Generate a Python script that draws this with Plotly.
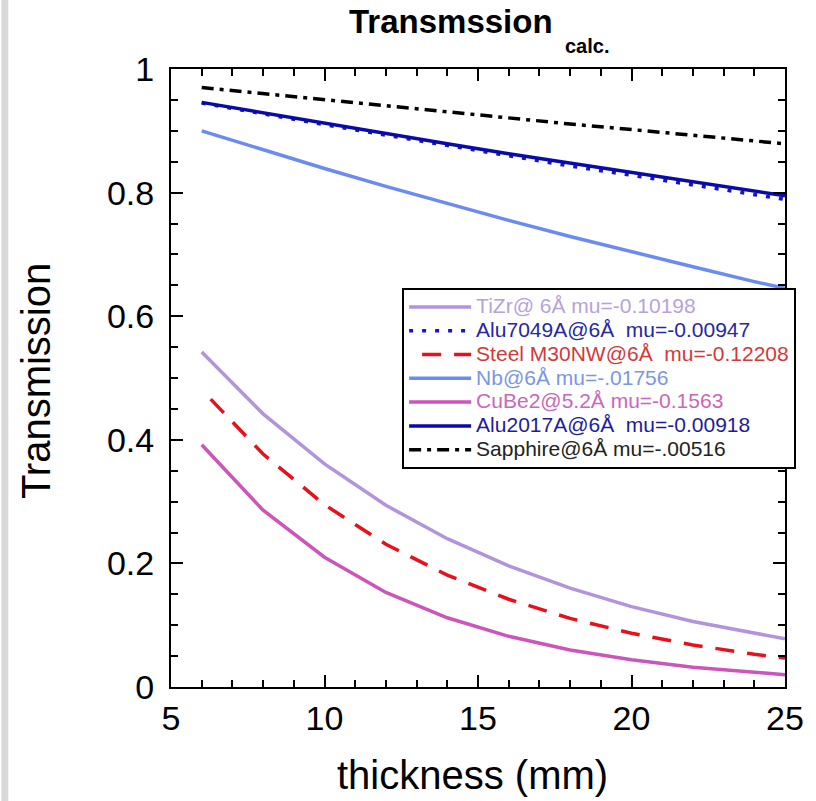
import plotly.graph_objects as go

# thickness (mm) and calculated transmission for each material
thickness = [6, 8, 10, 12, 14, 16, 18, 20, 22, 24, 25]
tizr = [0.542, 0.442, 0.361, 0.294, 0.240, 0.196, 0.160, 0.130, 0.106, 0.087, 0.078]
alu7049a = [0.945, 0.927, 0.910, 0.893, 0.876, 0.859, 0.843, 0.828, 0.812, 0.797, 0.789]
steel = [0.481, 0.377, 0.295, 0.231, 0.181, 0.142, 0.111, 0.087, 0.068, 0.053, 0.047]
nb = [0.900, 0.869, 0.839, 0.810, 0.782, 0.755, 0.729, 0.704, 0.680, 0.656, 0.645]
cube2 = [0.392, 0.286, 0.210, 0.153, 0.112, 0.082, 0.060, 0.044, 0.032, 0.024, 0.020]
alu2017a = [0.946, 0.929, 0.912, 0.896, 0.879, 0.863, 0.848, 0.832, 0.817, 0.802, 0.795]
sapphire = [0.970, 0.960, 0.950, 0.940, 0.930, 0.921, 0.911, 0.902, 0.893, 0.884, 0.879]

series_names = [
    "TiZr@ 6Å mu=-0.10198",
    "Alu7049A@6Å\u00a0\u00a0mu=-0.00947",
    "Steel M30NW@6Å\u00a0\u00a0mu=-0.12208",
    "Nb@6Å mu=-.01756",
    "CuBe2@5.2Å mu=-0.1563",
    "Alu2017A@6Å\u00a0\u00a0mu=-0.00918",
    "Sapphire@6Å mu=-.00516",
]
series_values = [tizr, alu7049a, steel, nb, cube2, alu2017a, sapphire]
line_colors = ["#b294dc", "#1414c8", "#e8101a", "#6a8cf0", "#cc55bb", "#0a0aaa", "#000000"]
text_colors = ["#b7a3d9", "#2626a6", "#d23a3a", "#7b96e2", "#cc66bb", "#1c1c9c", "#222222"]
dashes = ["solid", "4px,9px", "0px,13px,19px,0px", "solid", "solid", "solid", "12px,6px,4px,6px"]
widths = [3.5, 3.5, 3.5, 3.5, 3.5, 3.5, 3.5]

FONT = "Arial, Liberation Sans, sans-serif"

fig = go.Figure()
for name, vals, lc, tc, dash, lw in zip(series_names, series_values, line_colors,
                                        text_colors, dashes, widths):
    fig.add_trace(go.Scatter(
        x=thickness, y=vals, mode="lines",
        name=f"<span style='color:{tc};font-size:21px'>{name}</span>",
        line=dict(color=lc, width=lw, dash=dash),
    ))

W, H = 816, 801
L, R, T, B = 171, 26, 69, 114
pw, ph = W - L - R, H - T - B


def px(x):
    return (x - L) / pw


def py(y):
    return (H - B - y) / ph


axis_common = dict(
    showline=True, linecolor="black", linewidth=2, mirror="ticks",
    ticks="inside", tickcolor="black", tickwidth=1.5, ticklen=12,
    showgrid=False, zeroline=False,
    tickfont=dict(family=FONT, size=34, color="black"),
)

fig.update_layout(
    width=W, height=H,
    margin=dict(l=L, r=R, t=T, b=B),
    paper_bgcolor="white", plot_bgcolor="white",
    showlegend=True,
    legend=dict(
        x=px(404), y=py(288), xanchor="left", yanchor="top",
        bgcolor="white", bordercolor="black", borderwidth=2,
        font=dict(family=FONT, size=16, color="black"),
        itemwidth=62, tracegroupgap=0,
    ),
    xaxis=dict(
        range=[5, 25], dtick=5, tick0=5,
        minor=dict(dtick=1, ticks="inside", ticklen=7, tickcolor="black", tickwidth=1.5),
        ticklabelstandoff=0,
        **axis_common,
    ),
    yaxis=dict(
        range=[0, 1], dtick=0.2, tick0=0,
        minor=dict(dtick=0.05, ticks="inside", ticklen=7, tickcolor="black", tickwidth=1.5),
        ticklabelstandoff=8,
        **axis_common,
    ),
    shapes=[dict(
        type="rect", xref="paper", yref="paper", layer="below",
        x0=px(0), x1=px(7), y0=py(H), y1=py(0),
        fillcolor="#d9d9d9", line=dict(width=0),
    )],
    annotations=[
        dict(text="<b>Transmssion</b>", xref="paper", yref="paper",
             x=px(453), y=py(22), xanchor="center", yanchor="middle", showarrow=False,
             font=dict(family=FONT, size=33, color="black")),
        dict(text="<b>calc.</b>", xref="paper", yref="paper",
             x=px(590), y=py(46), xanchor="center", yanchor="middle", showarrow=False,
             font=dict(family=FONT, size=20, color="black")),
        dict(text="thickness (mm)", xref="paper", yref="paper",
             x=px(475), y=py(775), xanchor="center", yanchor="middle", showarrow=False,
             font=dict(family=FONT, size=40, color="black")),
        dict(text="Transmission", xref="paper", yref="paper", textangle=-90,
             x=px(35), y=py(381), xanchor="center", yanchor="middle", showarrow=False,
             font=dict(family=FONT, size=40, color="black")),
    ],
)

fig.write_html("out.html")
